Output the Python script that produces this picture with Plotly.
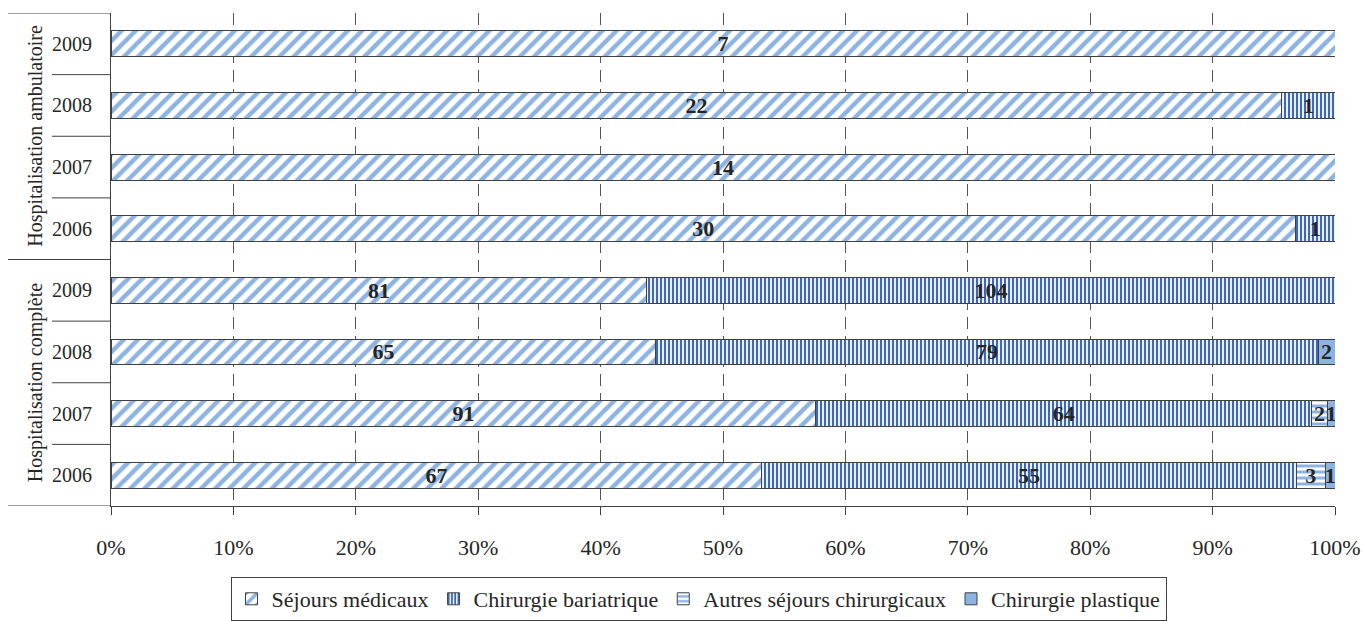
import plotly.graph_objects as go

groups = ["Hospitalisation complète"] * 4 + ["Hospitalisation ambulatoire"] * 4
years = ["2006", "2007", "2008", "2009", "2006", "2007", "2008", "2009"]
series_names = ["Séjours médicaux", "Chirurgie bariatrique", "Autres séjours chirurgicaux", "Chirurgie plastique"]
sejours_medicaux = [67, 91, 65, 81, 30, 14, 22, 7]
chirurgie_bariatrique = [55, 64, 79, 104, 1, 0, 1, 0]
autres_sejours = [3, 2, 0, 0, 0, 0, 0, 0]
chirurgie_plastique = [1, 1, 2, 0, 0, 0, 0, 0]
x_ticks = [0, 10, 20, 30, 40, 50, 60, 70, 80, 90, 100]

series_values = [sejours_medicaux, chirurgie_bariatrique, autres_sejours, chirurgie_plastique]
styles = [
    dict(shape="/", fg="#8db3e2", size=10, solidity=0.45),
    dict(shape="|", fg="#3b68bb", size=4, solidity=0.55),
    dict(shape="-", fg="#8db3e2", size=6, solidity=0.5),
    dict(shape="", fg="#8db3e2", size=6, solidity=1.0),
]

ypos = list(range(len(years)))
fig = go.Figure()
for name, vals, st in zip(series_names, series_values, styles):
    marker = dict(line=dict(color="#404040", width=1))
    if st["shape"]:
        marker["color"] = "white"
        marker["pattern"] = dict(shape=st["shape"], fgcolor=st["fg"], bgcolor="white",
                                 size=st["size"], solidity=st["solidity"], fillmode="replace")
    else:
        marker["color"] = st["fg"]
    fig.add_trace(go.Bar(
        name=name, y=ypos, x=vals, orientation="h", marker=marker,
        text=[str(v) if v else "" for v in vals], textposition="inside",
        insidetextanchor="middle", constraintext="none", textangle=0,
        textfont=dict(family="Liberation Serif", size=22, color="#262626", weight="bold"),
        width=0.42, hoverinfo="skip",
    ))

shapes = []
L = 111
W = 1224
def px(x):
    return (x - L) / W
for b in [-0.5, 3.5, 7.5]:
    shapes.append(dict(type="line", xref="paper", yref="y", x0=px(8), x1=0, y0=b, y1=b,
                       line=dict(color="#404040", width=1)))
for b in [0.5, 1.5, 2.5, 4.5, 5.5, 6.5]:
    shapes.append(dict(type="line", xref="paper", yref="y", x0=px(52), x1=0, y0=b, y1=b,
                       line=dict(color="#404040", width=1)))

annotations = [
    dict(text="Hospitalisation ambulatoire", x=px(22), xref="paper", y=5.5, yref="y",
         textangle=-90, showarrow=False, font=dict(family="Liberation Serif", size=20, color="#262626")),
    dict(text="Hospitalisation complète", x=px(22), xref="paper", y=1.5, yref="y",
         textangle=-90, showarrow=False, font=dict(family="Liberation Serif", size=20, color="#262626")),
]

fig.update_layout(
    barmode="stack", barnorm="percent",
    width=1363, height=621,
    margin=dict(l=111, r=28, t=13, b=115, autoexpand=False),
    plot_bgcolor="white", paper_bgcolor="white",
    font=dict(family="Liberation Serif", color="#262626"),
    shapes=shapes, annotations=annotations,
    showlegend=True,
    legend=dict(orientation="h", x=0.48, xanchor="center", yref="container", y=-0.012, yanchor="bottom",
                bordercolor="#404040", borderwidth=1, font=dict(size=22, color="#262626"),
                traceorder="normal", itemwidth=30, tracegroupgap=0),
    xaxis=dict(range=[0, 100], tickvals=x_ticks, ticktext=[f"{t}%" for t in x_ticks],
               showgrid=True, gridcolor="#555555", griddash="12px,7px", gridwidth=1,
               showline=True, linecolor="#404040", ticks="outside", ticklen=8, tickcolor="#404040",
               tickfont=dict(size=22), ticklabelstandoff=14, zeroline=False, automargin=False),
    yaxis=dict(range=[-0.5, 7.5], tickvals=ypos, ticktext=years, showgrid=False,
               showline=True, linecolor="#404040", ticks="", tickfont=dict(size=20),
               ticklabelstandoff=14, zeroline=False, automargin=False),
)

fig.write_html("out.html")
